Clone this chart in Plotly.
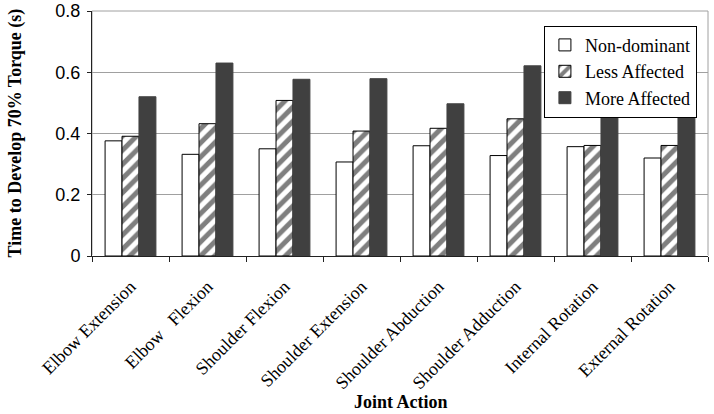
import plotly.graph_objects as go

categories = ["Elbow Extension", "Elbow   Flexion", "Shoulder Flexion", "Shoulder Extension",
              "Shoulder Abduction", "Shoulder Adduction", "Internal Rotation", "External Rotation"]
non_dominant = [0.376, 0.332, 0.350, 0.307, 0.360, 0.328, 0.357, 0.320]
less_affected = [0.391, 0.432, 0.508, 0.408, 0.417, 0.448, 0.361, 0.361]
more_affected = [0.520, 0.630, 0.577, 0.579, 0.497, 0.621, 0.490, 0.530]
y_ticks = [0, 0.2, 0.4, 0.6, 0.8]
y_tick_labels = ["0", "0.2", "0.4", "0.6", "0.8"]

fig = go.Figure()
fig.add_trace(go.Bar(name="Non-dominant", x=categories, y=non_dominant,
                     marker=dict(color="white", line=dict(color="black", width=1))))
fig.add_trace(go.Bar(name="Less Affected", x=categories, y=less_affected,
                     marker=dict(color="white", line=dict(color="black", width=1),
                                 pattern=dict(shape="/", fgcolor="black", bgcolor="white",
                                              size=10, solidity=0.5))))
fig.add_trace(go.Bar(name="More Affected", x=categories, y=more_affected,
                     marker=dict(color="#404040", line=dict(color="#404040", width=1))))

fig.update_layout(
    width=714, height=414,
    margin=dict(l=92, r=6, t=11, b=158, autoexpand=False),
    paper_bgcolor="white", plot_bgcolor="white",
    barmode="group", bargap=0.34, bargroupgap=0,
    showlegend=True,
    legend=dict(x=0.982, y=0.94, xanchor="right", yanchor="top",
                bgcolor="white", bordercolor="black", borderwidth=1,
                font=dict(family="Liberation Serif", size=18, color="black"),
                itemwidth=30, tracegroupgap=0),
    font=dict(family="Liberation Serif", color="black"),
    annotations=[
        dict(text="<b>Joint Action</b>", xref="paper", yref="paper", x=0.502, y=-0.596,
             xanchor="center", yanchor="middle", showarrow=False,
             font=dict(family="Liberation Serif", size=18, color="black")),
        dict(text="<b>Time to Develop 70% Torque (s)</b>", xref="paper", yref="paper",
             x=-0.125, y=0.5, xanchor="center", yanchor="middle", showarrow=False, textangle=-90,
             font=dict(family="Liberation Serif", size=18, color="black")),
    ],
)
fig.update_xaxes(
    automargin=False,
    showline=True, linecolor="#222222", linewidth=1, mirror=False,
    ticks="outside", tickson="boundaries", ticklen=5, tickcolor="#222222",
    tickangle=-45, ticklabelstandoff=12,
    tickfont=dict(family="Liberation Serif", size=18, color="black"),
)
fig.update_yaxes(
    automargin=False,
    range=[0, 0.8], tickvals=y_ticks, ticktext=y_tick_labels,
    showline=True, linecolor="#222222", linewidth=1,
    ticks="outside", ticklen=4, tickcolor="#222222", ticklabelstandoff=3,
    showgrid=True, gridcolor="#a0a0a0", gridwidth=1,
    tickfont=dict(family="Liberation Sans", size=18, color="black"),
)
fig.add_shape(type="rect", xref="paper", yref="paper", x0=0, x1=1, y0=0, y1=1,
              line=dict(color="#a0a0a0", width=1), layer="below")
fig.write_html("out.html", config={"displayModeBar": False},
               post_script="document.body.style.margin='0';")
